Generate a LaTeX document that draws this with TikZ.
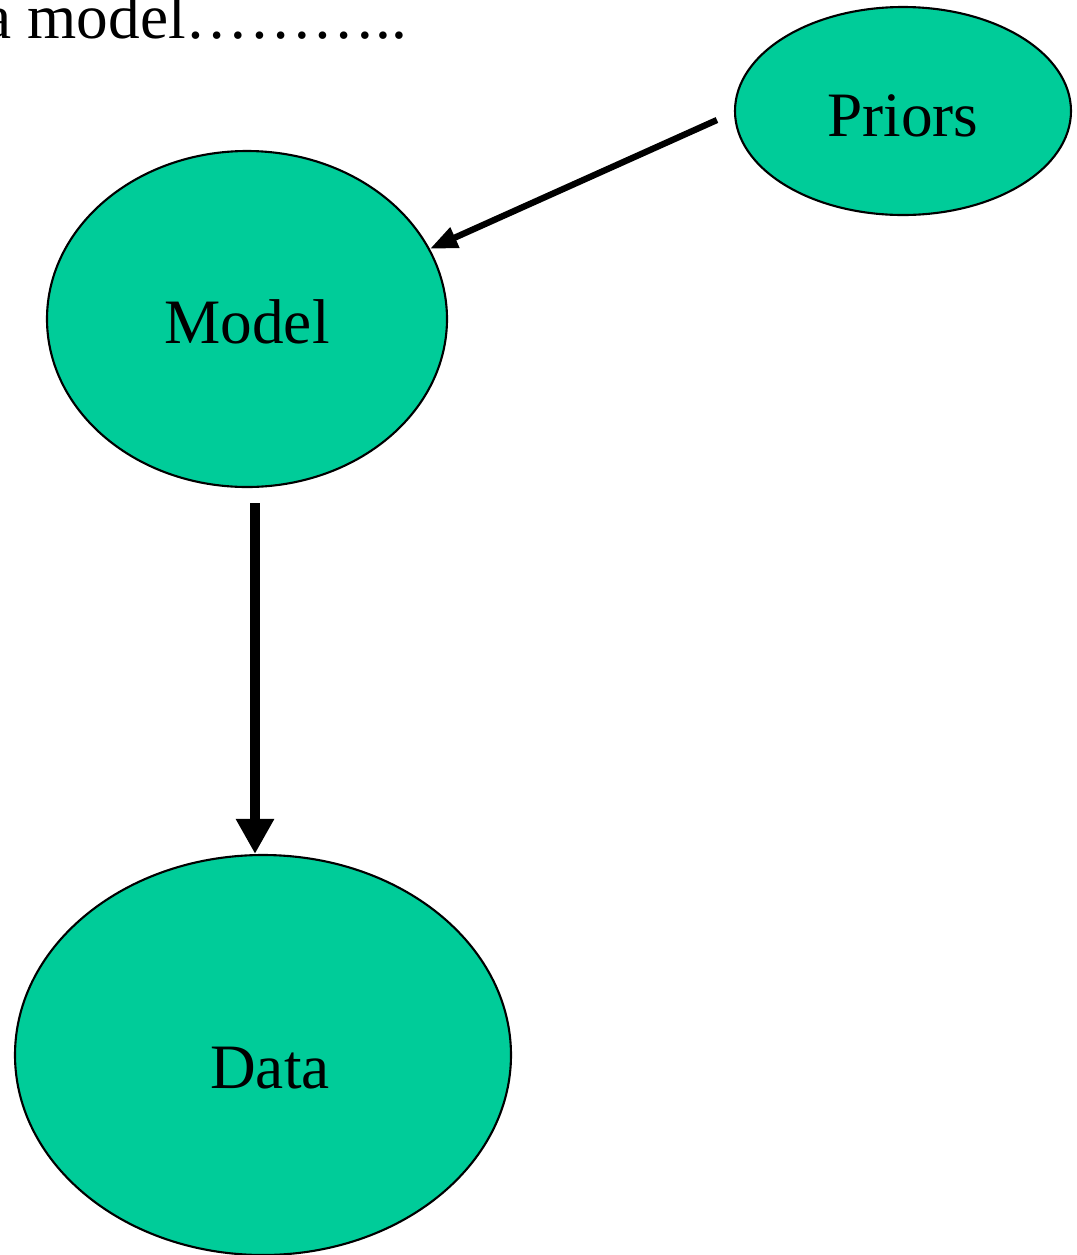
\documentclass[tikz,border=0pt]{standalone}
\usepackage{fontspec}
\setmainfont{Liberation Serif}
\usetikzlibrary{shapes,arrows.meta}

\tikzset{
	blob/.style={ellipse,draw=black,line width=1.2pt,fill=seagreen,inner sep=0pt,font=\fontsize{36}{43}\selectfont},
	link/.style={line width=#1,-{Triangle[length=0.55cm,width=0.42cm]}},
}

\begin{document}
\begin{tikzpicture}
					\definecolor{seagreen}{HTML}{00CC99}
					\useasboundingbox (0,0) rectangle (21.52,-25.1);
					\node[anchor=base west,inner sep=0pt,font=\fontsize{36}{43}\selectfont] (title) at (-0.33,-0.76) {a model………..};
					\node[blob,minimum width=6.72cm,minimum height=4.16cm] (priors) at (18.06,-2.22) {\raisebox{-0.5cm}[0pt][0pt]{Priors}};
					\node[blob,minimum width=8cm,minimum height=6.72cm] (model) at (4.94,-6.38) {\raisebox{-0.48cm}[0pt][0pt]{Model}};
					\node[blob,minimum width=9.92cm,minimum height=8cm] (data) at (5.26,-21.1) {\hspace{0.28cm}\raisebox{-0.66cm}[0pt][0pt]{Data}};
					\draw[link=3.6pt] ([shift={(-0.34,-0.18)}]priors.west) -- (model.21.5);
					\draw[link=5.6pt,-{Triangle[length=0.7cm,width=0.72cm]}] ([shift={(0.16,-0.3)}]model.south) -- ([xshift=-0.16cm]data.north);
				\end{tikzpicture}
\end{document}
